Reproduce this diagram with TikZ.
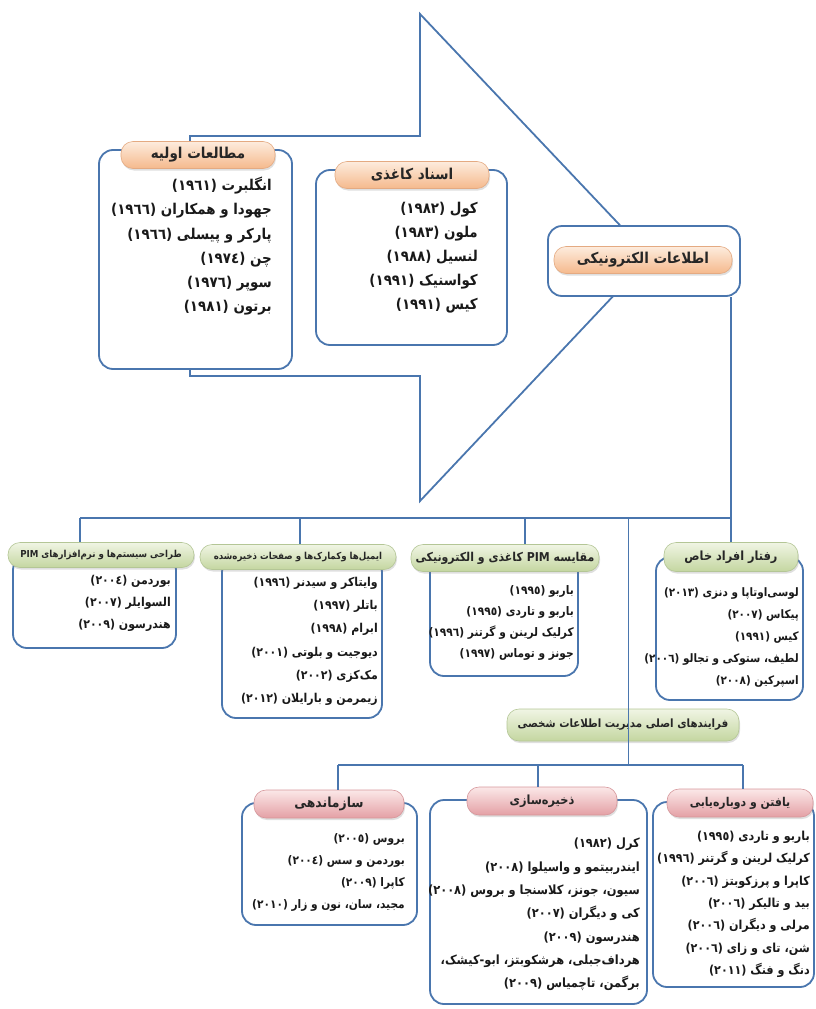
\documentclass[tikz,border=0pt]{standalone}
\usepackage{fontspec}
\setmainfont{DejaVu Sans}
\newfontfamily\fa[Script=Arabic]{DejaVu Sans}
\newfontfamily\fab[Script=Arabic,FakeStretch=0.9]{DejaVu Sans}
\TeXXeTstate=1
\usetikzlibrary{shadows,calc}
\definecolor{lineblue}{RGB}{74,118,174}
\definecolor{orgT}{RGB}{253,236,222}
\definecolor{orgB}{RGB}{245,185,140}
\definecolor{orgD}{RGB}{228,170,130}
\definecolor{grnT}{RGB}{240,245,228}
\definecolor{grnB}{RGB}{196,214,160}
\definecolor{grnD}{RGB}{180,198,150}
\definecolor{pnkT}{RGB}{251,232,232}
\definecolor{pnkB}{RGB}{228,160,165}
\definecolor{pnkD}{RGB}{214,150,155}
\newcommand\rl[1]{\beginR #1\endR}
\tikzset{
  conn/.style={draw=lineblue, line width=1.8pt},
  thinconn/.style={draw=lineblue, line width=0.8pt},
  panel/.style={draw=lineblue, line width=1.8pt, fill=white, rounded corners=14pt, inner sep=0pt},
  pillbase/.style={rounded corners=12pt, inner sep=0pt, line width=0.6pt,
    drop shadow={opacity=0.25, shadow xshift=1pt, shadow yshift=-2pt},
    font=\fab\bfseries\fontsize{15}{15}\selectfont, text=black!85},
  orangepill/.style={pillbase, top color=orgT, bottom color=orgB, draw=orgD},
  greenpill/.style={pillbase, top color=grnT, bottom color=grnB, draw=grnD},
  pinkpill/.style={pillbase, top color=pnkT, bottom color=pnkB, draw=pnkD},
  hfont/.style={font=\fab\bfseries\fontsize{#1}{#1}\selectfont},
  bodytxt/.style 2 args={anchor=north east, inner sep=0pt, align=right, text=black!90,
    font=\fab\bfseries\fontsize{#1}{#2}\selectfont},
}
\begin{document}
\begin{tikzpicture}[x=1pt,y=-1pt]
\useasboundingbox (0,0) rectangle (816,1009);

% big arrow
\draw[conn, line join=miter] (190,136) -- (420,136) -- (420,14) -- (650,257) -- (420,501) -- (420,376) -- (190,376) -- cycle;

% top panels
\node[panel, minimum width=193pt, minimum height=219pt] (b1) at (195.5,259.5) {};
\node[panel, minimum width=191pt, minimum height=175pt] (b2) at (411.5,257.5) {};
\node[panel, minimum width=192pt, minimum height=70pt] (be) at (644,261) {};

\node[orangepill, minimum width=154pt, minimum height=27pt] (p1) at (198,155) {\rl{مطالعات اولیه}};
\node[orangepill, minimum width=154pt, minimum height=27pt] (p2) at (412,175) {\rl{اسناد کاغذی}};
\node[orangepill, minimum width=178pt, minimum height=27pt] (pe) at (643,260) {\rl{اطلاعات الکترونیکی}};

\node[bodytxt={14.9}{24.2pt}] (t1) at (272,177) {\rl{انگلبرت (١٩٦١)}\\\rl{جهودا و همکاران (١٩٦٦)}\\\rl{پارکر و پیسلی (١٩٦٦)}\\\rl{چن (١٩٧٤)}\\\rl{سوپر (١٩٧٦)}\\\rl{برتون (١٩٨١)}};
\node[bodytxt={14.9}{24pt}] (t2) at (478,202) {\rl{کول (١٩٨٢)}\\\rl{ملون (١٩٨٣)}\\\rl{لنسیل (١٩٨٨)}\\\rl{کواسنیک (١٩٩١)}\\\rl{کیس (١٩٩١)}};

% bus coordinates
\coordinate (bus) at (731,518);
\coordinate (busL) at (80,518);
\coordinate (dB) at (300,518);
\coordinate (dC) at (525,518);
\coordinate (tm) at (628,518);
\coordinate (lowmid) at (628,765);
\coordinate (lbL) at (338,765);
\coordinate (lbF) at (538,765);
\coordinate (lbR) at (743,765);

% row 2 panels
\node[panel, minimum width=163pt, minimum height=92pt] (bA) at (94.5,602) {};
\node[panel, minimum width=160pt, minimum height=160pt] (bB) at (302,638) {};
\node[panel, minimum width=148pt, minimum height=119pt] (bC) at (504,616.5) {};
\node[panel, minimum width=147pt, minimum height=143pt] (bD) at (729.5,628.5) {};

% row 3 panels
\node[panel, minimum width=175pt, minimum height=122pt] (bE) at (329.5,864) {};
\node[panel, minimum width=217pt, minimum height=204pt] (bF) at (538.5,902) {};
\node[panel, minimum width=161pt, minimum height=185pt] (bG) at (733.5,894.5) {};

% connectors and pills
\draw[conn] (be.south -| bus) -- (bus) -- (busL);
\node[greenpill, minimum width=186pt, minimum height=25pt, hfont=9.6] (pA) at (101,555) {\rl{طراحی سیستم‌ها و نرم‌افزارهای PIM}};
\node[greenpill, minimum width=196pt, minimum height=25pt, hfont=9.6] (pB) at (298,557) {\rl{ایمیل‌ها وکمارک‌ها و صفحات ذخیره‌شده}};
\node[greenpill, minimum width=188pt, minimum height=27pt, hfont=12.2] (pC) at (505,558) {\rl{مقایسه PIM کاغذی و الکترونیکی}};
\node[greenpill, minimum width=134pt, minimum height=29pt, hfont=12.6] (pD) at (731,557) {\rl{رفتار افراد خاص}};
\draw[conn] (busL) -- (busL |- pA.north);
\draw[conn] (dB) -- (dB |- pB.north);
\draw[conn] (dC) -- (dC |- pC.north);
\draw[conn] (bus) -- (bus |- pD.north);

\node[greenpill, minimum width=232pt, minimum height=32pt, hfont=11.4] (pM) at (623,725) {\rl{فرایندهای اصلی مدیریت اطلاعات شخصی}};
\draw[thinconn] (tm) -- (lowmid);

\draw[conn] (lbL) -- (lbR);
\node[pinkpill, minimum width=150pt, minimum height=28pt, hfont=13.8] (pE) at (329,804) {\rl{سازماندهی}};
\node[pinkpill, minimum width=150pt, minimum height=28pt, hfont=12.6] (pF) at (542,801) {\rl{ذخیره‌سازی}};
\node[pinkpill, minimum width=146pt, minimum height=28pt, hfont=12.1] (pG) at (740,803) {\rl{یافتن و دوباره‌یابی}};
\draw[conn] (lbL) -- (lbL |- pE.north);
\draw[conn] (lbF) -- (lbF |- pF.north);
\draw[conn] (lbR) -- (lbR |- pG.north);

% texts row 2
\node[bodytxt={12.2}{22pt}] (tA) at (171,575) {\rl{بوردمن (٢٠٠٤)}\\\rl{السوایلر (٢٠٠٧)}\\\rl{هندرسون (٢٠٠٩)}};
\node[bodytxt={12.2}{23.2pt}] (tB) at (378,577) {\rl{وایتاکر و سیدنر (١٩٩٦)}\\\rl{باتلر (١٩٩٧)}\\\rl{ابرام (١٩٩٨)}\\\rl{دیوجیت و بلوتی (٢٠٠١)}\\\rl{مک‌کزی (٢٠٠٢)}\\\rl{زیمرمن و بارایلان (٢٠١٢)}};
\node[bodytxt={11.8}{21pt}] (tC) at (574,585) {\rl{باربو (١٩٩٥)}\\\rl{باربو و تاردی (١٩٩٥)}\\\rl{کرلیک لرینن و گرتنر (١٩٩٦)}\\\rl{جونز و توماس (١٩٩٧)}};
\node[bodytxt={11.6}{22pt}] (tD) at (799,587) {\rl{لوسی‌اوتاپا و دنزی (٢٠١٣)}\\\rl{پیکاس (٢٠٠٧)}\\\rl{کیس (١٩٩١)}\\\rl{لطیف، ستوکی و تجالو (٢٠٠٦)}\\\rl{اسپرکین (٢٠٠٨)}};

% texts row 3
\node[bodytxt={11.8}{22pt}] (tE) at (405,833) {\rl{بروس (٢٠٠٥)}\\\rl{بوردمن و سس (٢٠٠٤)}\\\rl{کاپرا (٢٠٠٩)}\\\rl{مجید، سان، نون و زار (٢٠١٠)}};
\node[bodytxt={12.7}{23.3pt}] (tF) at (640,838) {\rl{کرل (١٩٨٢)}\\\rl{ایندربیتمو و واسیلوا (٢٠٠٨)}\\\rl{سیون، جونز، کلاسنجا و بروس (٢٠٠٨)}\\\rl{کی و دیگران (٢٠٠٧)}\\\rl{هندرسون (٢٠٠٩)}\\\rl{هرداف‌جبلی، هرشکوبتز، ابو-کیشک،}\\\rl{برگمن، تاچمیاس (٢٠٠٩)}};
\node[bodytxt={12.4}{22.3pt}] (tG) at (810,831) {\rl{باربو و تاردی (١٩٩٥)}\\\rl{کرلیک لرینن و گرتنر (١٩٩٦)}\\\rl{کاپرا و پرزکوبتز (٢٠٠٦)}\\\rl{بید و تالیکر (٢٠٠٦)}\\\rl{مرلی و دیگران (٢٠٠٦)}\\\rl{شن، تای و زای (٢٠٠٦)}\\\rl{دنگ و فنگ (٢٠١١)}};
\end{tikzpicture}
\end{document}
